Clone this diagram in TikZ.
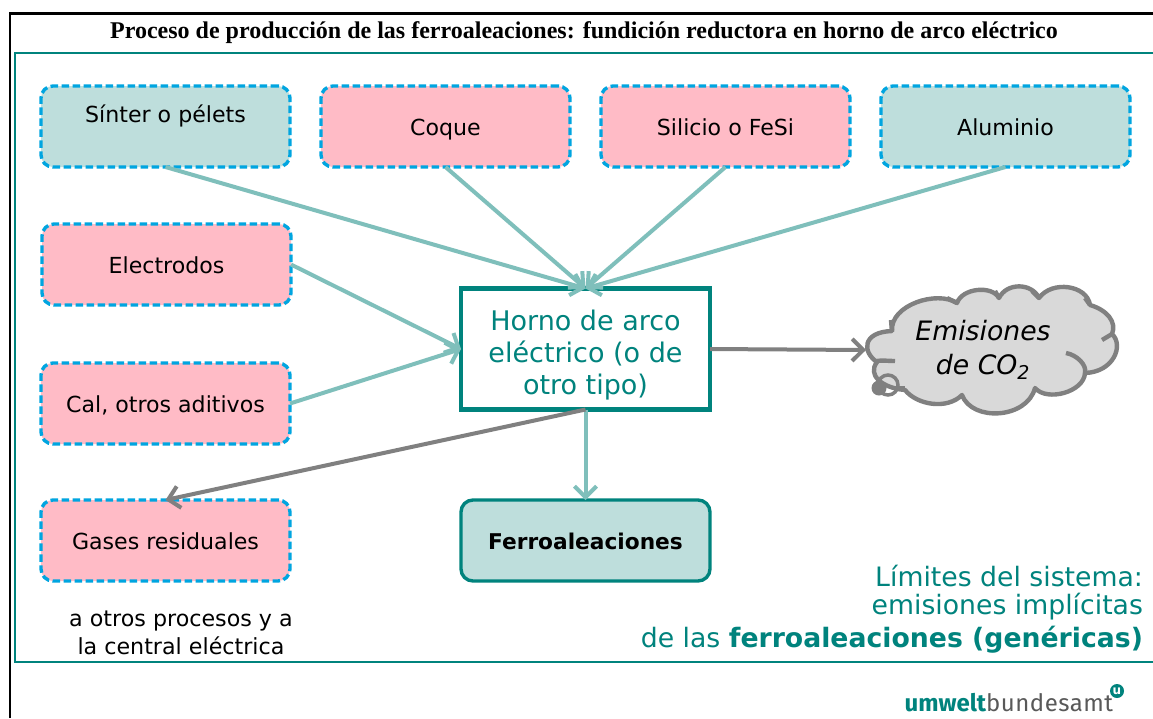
\documentclass[tikz,border=0pt]{standalone}
\usepackage{fontspec}
\setmainfont{DejaVu Sans}
\newfontfamily\titlefont{Liberation Serif}
\newfontfamily\logofont{Fira Sans}
\usetikzlibrary{arrows.meta}
\definecolor{tealdark}{HTML}{00837D}
\definecolor{teallight}{HTML}{BEDEDC}
\definecolor{tealarrow}{HTML}{7FBFBB}
\definecolor{pinkbox}{HTML}{FFBBC6}
\definecolor{dashblue}{HTML}{00A5E0}
\definecolor{grayline}{HTML}{808080}
\definecolor{cloudfill}{HTML}{D9D9D9}
\newcommand{\fs}[2]{\fontsize{#1}{#2}\selectfont}
\tikzset{
  x=1pt,y=-1pt,
  every node/.style={outer sep=0pt,inner sep=0pt,align=center},
  boxtext/.style={font=\fs{22.1}{26},text height=21pt,text depth=4pt},
  inbox/.style={draw=dashblue,line width=3.4pt,dash pattern=on 7.5pt off 3.5pt,rounded corners=12pt,
    minimum width=249pt,minimum height=81pt,boxtext},
  greenbox/.style={inbox,fill=teallight},
  pinkb/.style={inbox,fill=pinkbox},
  tealarr/.style={draw=tealarrow,line width=4pt,-{Straight Barb[length=11pt,width=22pt,line width=4pt]}},
  grayarr/.style={draw=grayline,line width=4pt,-{Straight Barb[length=11pt,width=22pt,line width=4pt]}},
  cloudline/.style={draw=grayline,line width=4.4pt},
}
\begin{document}
\begin{tikzpicture}
\useasboundingbox (0,0) rectangle (1153,718);
\fill[white] (0,0) rectangle (1153,718);
\draw[black,line width=2.5pt] (10,718) -- (10,13.5) -- (1153,13.5);
\draw[tealdark,line width=2.5pt] (1153,53) -- (15,53) -- (15,662) -- (1153,662);
\node[font=\titlefont\bfseries\fs{24}{28}] (title) at (584,33) {Proceso de producción de las ferroaleaciones: fundición reductora en horno de arco eléctrico};

\node[greenbox] (sinter) at (165.5,126.5) {};
\node[boxtext] (sinterlabel) at (165.5,114) {Sínter o pélets};
\node[pinkb] (coque) at (445.5,126.5) {Coque};
\node[pinkb] (silicio) at (725.5,126.5) {Silicio o FeSi};
\node[greenbox] (aluminio) at (1005.5,126.5) {Aluminio};
\node[pinkb] (electrodos) at (166.5,264.5) {Electrodos};
\node[pinkb] (cal) at (165.5,403.5) {Cal, otros aditivos};
\node[pinkb] (gases) at (165.5,540.5) {Gases residuales};
\node[draw=tealdark,line width=4.5pt,fill=white,minimum width=249pt,minimum height=121pt,
  text=tealdark,font=\fs{27}{32},align=center,text height=90pt,text depth=0pt] (horno) at (585.5,349) {\raisebox{-3.5pt}{}Horno de arco\\eléctrico (o de\\otro tipo)};
\node[fill=teallight,draw=tealdark,line width=3.4pt,rounded corners=12pt,minimum width=249pt,minimum height=81pt,
  font=\bfseries\fs{21.7}{26},text height=21pt,text depth=4pt] (ferro) at (585.5,540.5) {Ferroaleaciones};

% cloud
\coordinate (cloudin) at (866,350);
\path[fill=cloudfill,cloudline,line join=round]
  (892,331) .. controls (890,305) and (937,290) .. (957,303)
  .. controls (962,288) and (992,285) .. (999,298)
  .. controls (1007,282) and (1032,283) .. (1039,298)
  .. controls (1052,280) and (1087,285) .. (1090,305)
  .. controls (1107,310) and (1117,322) .. (1112,334)
  .. controls (1124,345) and (1114,372) .. (1085,373)
  .. controls (1084,392) and (1047,402) .. (1035,388)
  .. controls (1027,419) and (972,422) .. (962,395)
  .. controls (947,410) and (917,405) .. (905,390)
  .. controls (882,388) and (867,375) .. (877,362)
  .. controls (862,352) and (862,332) .. (892,331) -- cycle;
\draw[cloudline] (892,332) -- (891,320);
\draw[cloudline] (957,303) -- (947,298);
\draw[cloudline] (999,298) -- (995,291);
\draw[cloudline] (1039,298) -- (1032,291);
\draw[cloudline] (1090,305) -- (1085,298);
\draw[cloudline] (1112,334) -- (1102,340);
\draw[cloudline] (1066,353) .. controls (1077,355) and (1087,365) .. (1085,373);
\draw[cloudline] (877,361) .. controls (882,360) and (887,361) .. (895,361);
\draw[cloudline] (905,388) -- (896,388);
\fill[grayline] (879,388) circle (7.5);
\draw[grayline,line width=3.5pt] (888,385) circle (10);
\node[font=\itshape\fs{26.7}{33.5},align=center] (cloudtext) at (983,350) {Emisiones\\de CO\textsubscript{\fs{19}{19}2}};

% connectors
\draw[tealarr] (sinter.south) -- (horno.north);
\draw[tealarr] (coque.south) -- (horno.north);
\draw[tealarr] (silicio.south) -- (horno.north);
\draw[tealarr] (aluminio.south) -- (horno.north);
\draw[tealarr] (electrodos.east) -- (horno.west);
\draw[tealarr] (cal.east) -- (horno.west);
\draw[tealarr] (horno.south) -- (ferro.north);
\draw[grayarr] (horno.south) -- (gases.north);
\draw[grayarr] (horno.east) -- (cloudin);

% texts
\node[font=\fs{22.2}{28},align=center] (destino) at (181,633) {a otros procesos y a\\la central eléctrica};
\node[anchor=east,text=tealdark,font=\fs{26.7}{32}] (lim1) at (1143,576) {Límites del sistema:};
\node[anchor=east,text=tealdark,font=\fs{26.7}{32}] (lim2) at (1143,607) {emisiones implícitas};
\node[anchor=east,text=tealdark,font=\fs{26.7}{32}] (lim3) at (1143,640) {de las \textbf{ferroaleaciones (genéricas)}};
\node[anchor=base east,font=\logofont\fs{24}{28}] (logo) at (1113,711) {\textcolor{tealdark}{\bfseries umwelt}\textcolor{black!65}{\addfontfeature{LetterSpace=2}\fontseries{l}\selectfont bundesamt}};
\node[circle,fill=tealdark,minimum size=14pt,text=white,font=\bfseries\fs{12}{12}] (logou) at (1117,691) {u};
\end{tikzpicture}
\end{document}
